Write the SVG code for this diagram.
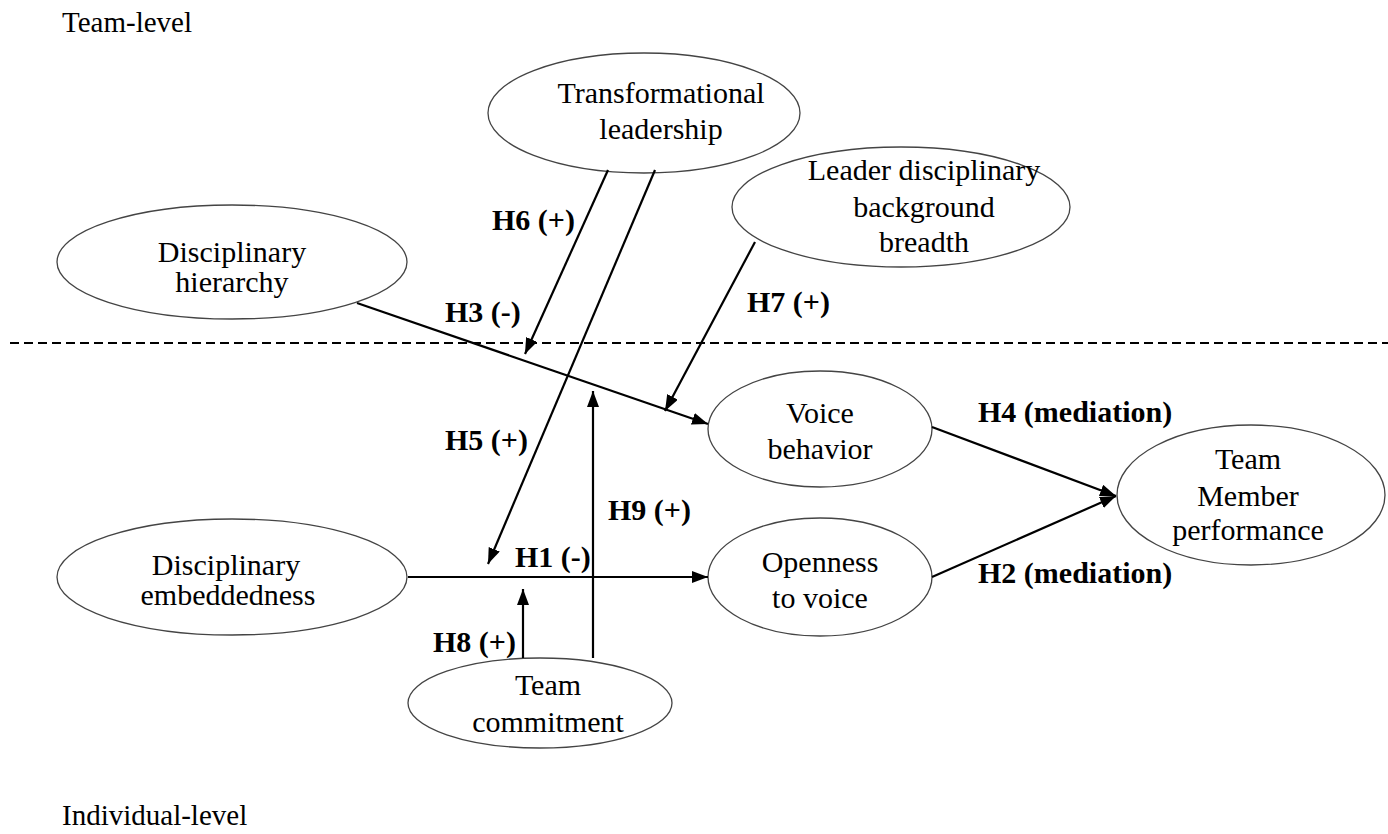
<svg xmlns="http://www.w3.org/2000/svg" width="1388" height="834" viewBox="0 0 1388 834">
<defs>
<style>
.node ellipse{fill:#fff;stroke:#444;stroke-width:1.3}
.nt{font-family:"Liberation Serif","Times New Roman",serif;font-size:30px;fill:#000;text-anchor:middle}
.lvl{font-family:"Liberation Serif","Times New Roman",serif;font-size:29px;fill:#000}
.lbl{font-family:"Liberation Serif","Times New Roman",serif;font-size:30px;font-weight:bold;fill:#000}
.conn line{stroke:#000;stroke-width:2.2;fill:none}
</style>
<marker id="ah" markerUnits="userSpaceOnUse" markerWidth="18" markerHeight="14" refX="16" refY="6" orient="auto">
<path d="M0,0 L16,6 L0,12 z" fill="#000"/>
</marker>
</defs>
<rect width="1388" height="834" fill="#fff"/>
<text class="lvl" x="62" y="32">Team-level</text>
<text class="lvl" x="62" y="825">Individual-level</text>
<line x1="10" y1="343" x2="1388" y2="343" stroke="#000" stroke-width="2" stroke-dasharray="9 5"/>
<g id="n-transformational" class="node">
<ellipse cx="644" cy="113" rx="156" ry="60"/>
<text class="nt" x="661" y="103">Transformational</text>
<text class="nt" x="661" y="139">leadership</text>
</g>
<g id="n-hierarchy" class="node">
<ellipse cx="232" cy="262" rx="175" ry="57"/>
<text class="nt" x="232" y="262">Disciplinary</text>
<text class="nt" x="232" y="292">hierarchy</text>
</g>
<g id="n-leader" class="node">
<ellipse cx="901" cy="207" rx="169" ry="60"/>
<text class="nt" x="924" y="180">Leader disciplinary</text>
<text class="nt" x="924" y="217">background</text>
<text class="nt" x="924" y="252">breadth</text>
</g>
<g id="n-voice" class="node">
<ellipse cx="820" cy="429" rx="112" ry="58"/>
<text class="nt" x="820" y="423">Voice</text>
<text class="nt" x="820" y="459">behavior</text>
</g>
<g id="n-openness" class="node">
<ellipse cx="820" cy="577" rx="112" ry="59"/>
<text class="nt" x="820" y="572">Openness</text>
<text class="nt" x="820" y="608">to voice</text>
</g>
<g id="n-embeddedness" class="node">
<ellipse cx="232" cy="577" rx="175" ry="58"/>
<text class="nt" x="226" y="575">Disciplinary</text>
<text class="nt" x="228" y="605">embeddedness</text>
</g>
<g id="n-performance" class="node">
<ellipse cx="1251" cy="495" rx="134" ry="70"/>
<text class="nt" x="1248" y="469">Team</text>
<text class="nt" x="1248" y="506">Member</text>
<text class="nt" x="1248" y="540">performance</text>
</g>
<g id="n-commitment" class="node">
<ellipse cx="540" cy="703" rx="132" ry="45"/>
<text class="nt" x="548" y="695">Team</text>
<text class="nt" x="548" y="732">commitment</text>
</g>
<g id="connectors" class="conn">
<line x1="357" y1="303" x2="708" y2="424" marker-end="url(#ah)"/>
<line x1="608" y1="170" x2="525" y2="354" marker-end="url(#ah)"/>
<line x1="655" y1="170" x2="488" y2="564" marker-end="url(#ah)"/>
<line x1="755" y1="242" x2="665" y2="411" marker-end="url(#ah)"/>
<line x1="593" y1="658" x2="593" y2="391" marker-end="url(#ah)"/>
<line x1="523" y1="658" x2="523" y2="589" marker-end="url(#ah)"/>
<line x1="408" y1="577" x2="708" y2="577" marker-end="url(#ah)"/>
<line x1="932" y1="427" x2="1116" y2="496" marker-end="url(#ah)"/>
<line x1="932" y1="577" x2="1116" y2="496" marker-end="url(#ah)"/>
</g>
<g id="labels">
<text class="lbl" x="492" y="230">H6 (+)</text>
<text class="lbl" x="445" y="322">H3 (-)</text>
<text class="lbl" x="747" y="312">H7 (+)</text>
<text class="lbl" x="445" y="450">H5 (+)</text>
<text class="lbl" x="608" y="520">H9 (+)</text>
<text class="lbl" x="515" y="567">H1 (-)</text>
<text class="lbl" x="433" y="652">H8 (+)</text>
<text class="lbl" x="978" y="422">H4 (mediation)</text>
<text class="lbl" x="978" y="583">H2 (mediation)</text>
</g>
</svg>
